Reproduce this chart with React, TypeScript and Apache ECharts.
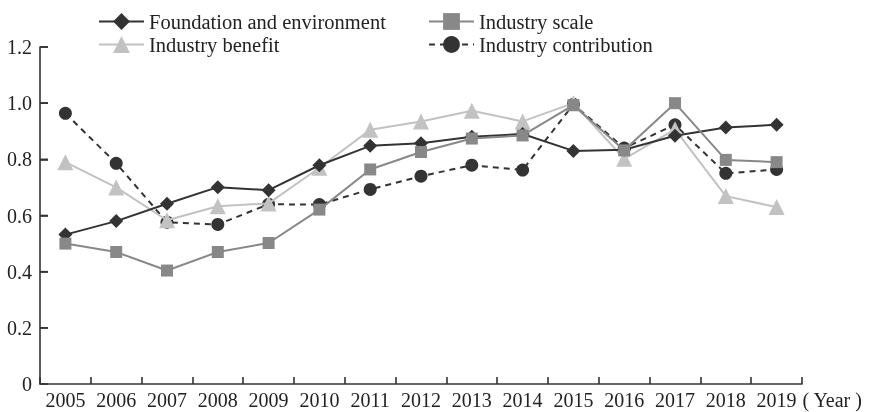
import React, { useEffect, useRef } from "react";
import * as echarts from "echarts";

const years = ["2005","2006","2007","2008","2009","2010","2011","2012","2013","2014","2015","2016","2017","2018","2019"];
const foundation = [0.532,0.58,0.642,0.701,0.69,0.779,0.848,0.857,0.88,0.89,0.83,0.834,0.884,0.913,0.923];
const scale = [0.5,0.47,0.404,0.47,0.502,0.621,0.764,0.826,0.874,0.885,0.993,0.832,1.0,0.798,0.79];
const benefit = [0.79,0.70,0.583,0.633,0.643,0.77,0.905,0.935,0.973,0.935,1.0,0.802,0.907,0.669,0.63];
const contribution = [0.964,0.786,0.576,0.568,0.64,0.639,0.693,0.74,0.779,0.762,0.996,0.84,0.923,0.75,0.764];
const yTicks = [0, 0.2, 0.4, 0.6, 0.8, 1.0, 1.2];

const FONT = "Liberation Serif";
const GRID_LEFT = 40;

export default function App() {
  const ref = useRef<HTMLDivElement>(null);
  useEffect(() => {
    if (!ref.current) return;
    const chart = echarts.init(ref.current, null, { renderer: "svg" });
    const textStyle = { fontFamily: FONT, fontSize: 20.5, color: "#222", lineHeight: 20 };
    chart.setOption({
      animation: false,
      textStyle: { fontFamily: FONT },
      grid: { left: GRID_LEFT, right: 73, top: 47, bottom: 28, containLabel: false },
      legend: [
        {
          left: 93, top: 6, orient: "vertical", itemWidth: 45, itemHeight: 21, itemGap: 2,
          textStyle, data: ["Foundation and environment", "Industry benefit"],
        },
        {
          left: 423, top: 6, orient: "vertical", itemWidth: 45, itemHeight: 21, itemGap: 2,
          textStyle, data: ["Industry scale", "Industry contribution"],
        },
      ],
      xAxis: {
        type: "category",
        data: years,
        boundaryGap: true,
        name: "( Year )",
        nameLocation: "end",
        nameGap: 0,
        nameTextStyle: { fontFamily: FONT, fontSize: 20, color: "#222", align: "left", verticalAlign: "top", padding: [6, 0, 0, 0] },
        axisLine: { lineStyle: { color: "#333", width: 1.6 } },
        axisTick: { show: true, inside: true, length: 7, interval: 0, lineStyle: { color: "#333", width: 1.6 } },
        axisLabel: { fontFamily: FONT, fontSize: 20, color: "#222", margin: 6, interval: 0, hideOverlap: false },
        splitLine: { show: false },
      },
      yAxis: {
        type: "value",
        min: yTicks[0],
        max: yTicks[yTicks.length - 1],
        interval: 0.2,
        axisLine: { show: true, lineStyle: { color: "#333", width: 1.6 } },
        axisTick: { show: true, inside: true, length: 8, lineStyle: { color: "#333", width: 1.6 } },
        axisLabel: {
          fontFamily: FONT, fontSize: 20, color: "#222", margin: 8,
          formatter: (v: number) => (v === 0 ? "0" : v.toFixed(1)),
        },
        splitLine: { show: false },
      },
      series: [
        {
          name: "Industry contribution", type: "line", data: contribution, z: 2,
          symbol: "circle", symbolSize: 13,
          itemStyle: { color: "#333" },
          lineStyle: { color: "#333", width: 2, type: [6, 5] },
        },
        {
          name: "Industry benefit", type: "line", data: benefit, z: 3,
          symbol: "triangle", symbolSize: 16,
          itemStyle: { color: "#c2c2c2" },
          lineStyle: { color: "#c2c2c2", width: 2 },
        },
        {
          name: "Foundation and environment", type: "line", data: foundation, z: 4,
          symbol: "diamond", symbolSize: 14,
          itemStyle: { color: "#333" },
          lineStyle: { color: "#333", width: 2 },
        },
        {
          name: "Industry scale", type: "line", data: scale, z: 5,
          symbol: "rect", symbolSize: 12,
          itemStyle: { color: "#888" },
          lineStyle: { color: "#888", width: 2 },
        },
      ],
    });
    // y-axis tick marks, placed through the y axis's own scale
    const tickEls = yTicks.slice(1).map((v) => {
      const y = Number(chart.convertToPixel({ yAxisIndex: 0 }, v));
      return {
        type: "rect",
        shape: { x: GRID_LEFT, y: y - 0.8, width: 8, height: 1.6 },
        style: { fill: "#333" },
        silent: true,
        z: 100,
      };
    });
    chart.setOption({ graphic: { elements: tickEls } });
    return () => chart.dispose();
  }, []);
  return <div ref={ref} style={{ position: "fixed", left: 0, top: 0, width: 875, height: 412 }} />;
}
